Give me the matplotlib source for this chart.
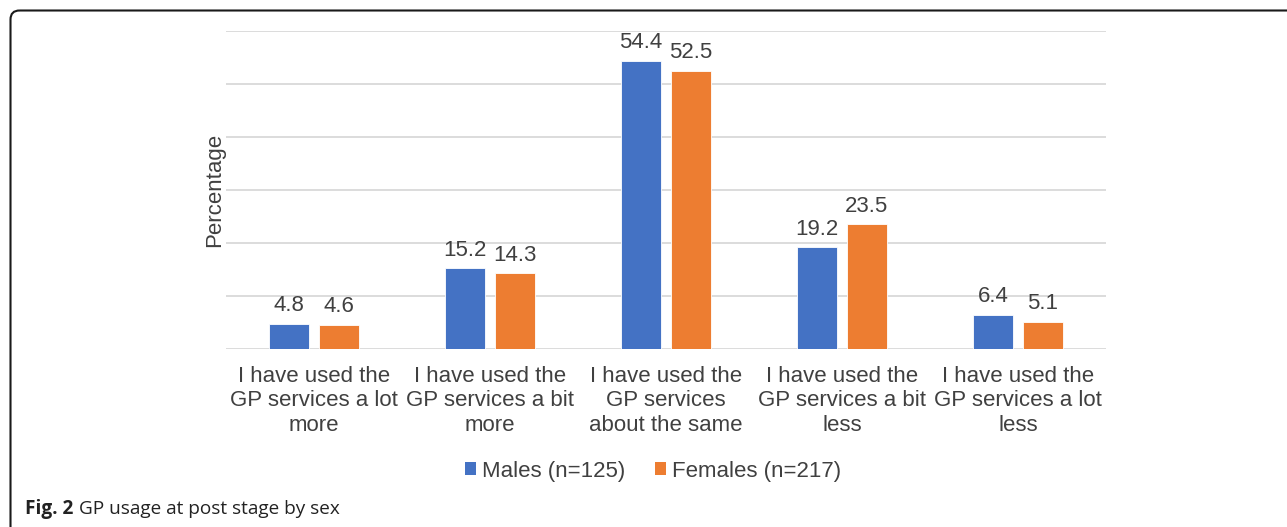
import matplotlib
matplotlib.use("Agg")
import matplotlib.pyplot as plt
from matplotlib.patches import FancyBboxPatch, Patch
import numpy as np

categories = [
    "I have used the\nGP services a lot\nmore",
    "I have used the\nGP services a bit\nmore",
    "I have used the\nGP services\nabout the same",
    "I have used the\nGP services a bit\nless",
    "I have used the\nGP services a lot\nless",
]
males = [4.8, 15.2, 54.4, 19.2, 6.4]
females = [4.6, 14.3, 52.5, 23.5, 5.1]
series_names = ["Males (n=125)", "Females (n=217)"]
colors = ["#4472C4", "#ED7D31"]

W, H = 1287, 527
fig = plt.figure(figsize=(W / 100, H / 100), dpi=100)
plt.rcParams['font.family'] = ['Liberation Sans', 'DejaVu Sans']

# background axes in pixel coordinates for the frame
bg = fig.add_axes([0, 0, 1, 1], zorder=-1)
bg.set_xlim(0, W)
bg.set_ylim(H, 0)
bg.axis("off")
box = FancyBboxPatch((10.5, 10.5), W + 50, H + 50,
                     boxstyle="round,pad=0,rounding_size=9",
                     fill=False, edgecolor="#1a1a1a", linewidth=1.5)
bg.add_patch(box)

ax = fig.add_axes([226 / W, 1 - 349 / H, (1106 - 226) / W, (349 - 31) / H])
x = np.arange(len(categories))
bw = 0.227
off = 0.142
b1 = ax.bar(x - off, males, bw, color=colors[0], edgecolor="white", linewidth=0.6, zorder=3)
b2 = ax.bar(x + off, females, bw, color=colors[1], edgecolor="white", linewidth=0.6, zorder=3)
for bars, vals in ((b1, males), (b2, females)):
    for r, v in zip(bars, vals):
        ax.text(r.get_x() + r.get_width() / 2, v + 1.45, f"{v:.1f}",
                ha="center", va="bottom", fontsize=16, color="#404040")

ax.set_xlim(-0.5, len(categories) - 0.5)
ax.set_ylim(0, 60)
ax.set_yticks(np.arange(0, 61, 10))
ax.set_yticklabels([])
ax.tick_params(axis="y", length=0)
ax.tick_params(axis="x", length=0, pad=12)
ax.set_xticks(x)
ax.set_xticklabels(categories, fontsize=16, color="#404040", linespacing=1.22)
ax.grid(axis="y", color="#d9d9d9", linewidth=1.3, zorder=0)
for s in ax.spines.values():
    s.set_visible(False)
ax.set_ylabel("Percentage", fontsize=16, color="#404040", labelpad=-3)

handles = [Patch(facecolor=c, label=n) for c, n in zip(colors, series_names)]
fig.legend(handles=handles, loc="center", bbox_to_anchor=(653 / W, 1 - 471 / H),
           ncol=2, frameon=False, fontsize=16, handlelength=0.5, handleheight=0.5,
           handletextpad=0.25, columnspacing=1.35, labelcolor="#404040")

cap_y = 1 - 509 / H
t1 = fig.text(25 / W, cap_y, "Fig. 2", fontsize=13.7, fontweight="bold",
              family=["Open Sans", "DejaVu Sans"], va="center", color="#222222")
fig.canvas.draw()
ext = t1.get_window_extent()
fig.text((ext.x1 + 6) / W, cap_y, "GP usage at post stage by sex", fontsize=13.7,
         family=["Open Sans", "DejaVu Sans"], va="center", color="#222222")

fig.savefig("out.png", dpi=100)
